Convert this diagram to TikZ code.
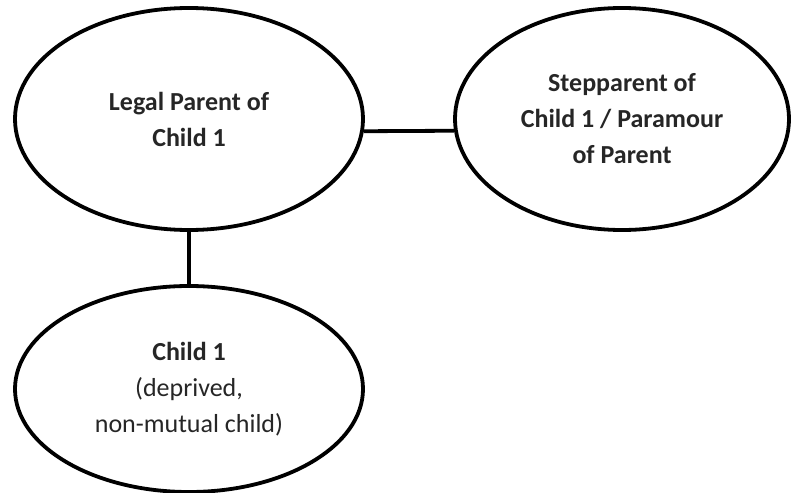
\documentclass[tikz,border=0pt]{standalone}
\usepackage{fontspec}
\setmainfont{Carlito}
\usetikzlibrary{shapes.geometric}

\begin{document}
\begin{tikzpicture}[x=1pt,y=1pt]
% Styles
 \tikzstyle{personne}=[ellipse,draw,line width=3.8pt,align=center,
      text=black!85,font=\fontsize{26}{36}\selectfont,inner sep=0pt]
 \tikzstyle{lien}=[line width=3.8pt]
 \useasboundingbox (0,0) rectangle (791,-492);
% Parent
 \node[personne,minimum width=348,minimum height=222] (parent) at (189,-119)
      {\textbf{Legal Parent of}\\\textbf{Child 1}};
% Beau-parent
 \node[personne,minimum width=334,minimum height=222] (beau) at (622,-119)
      {\textbf{Stepparent of}\\\textbf{Child 1 / Paramour}\\\textbf{of Parent}};
% Enfant
 \node[personne,minimum width=348,minimum height=206] (enfant) at (189,-389)
      {\textbf{Child 1}\\(deprived,\\non-mutual child)};
% Liens
 \draw[lien] (parent.-4) -- (beau.184);
 \draw[lien] (parent.south) -- (enfant.north);
\end{tikzpicture}
\end{document}
